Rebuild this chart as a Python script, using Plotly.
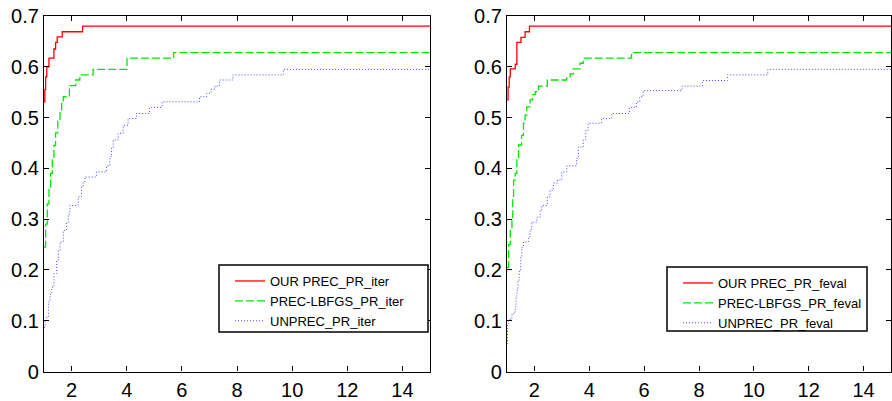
import plotly.graph_objects as go

# ---- data ----
red_iter_x = [1.0, 1.03, 1.06, 1.10, 1.18, 1.36, 1.42, 1.48, 1.66, 2.40, 15]
red_iter_y = [0.531, 0.555, 0.58, 0.600, 0.617, 0.635, 0.648, 0.659, 0.669, 0.680, 0.680]

green_iter_x = [1.0, 1.06, 1.12, 1.18, 1.24, 1.30, 1.36, 1.42, 1.50, 1.58, 1.64, 1.70,
                1.92, 2.15, 2.30, 2.78, 4.01, 5.70, 15]
green_iter_y = [0.245, 0.29, 0.33, 0.36, 0.39, 0.42, 0.445, 0.47, 0.495, 0.515, 0.53, 0.541,
                0.563, 0.574, 0.584, 0.595, 0.617, 0.628, 0.628]

blue_iter_x = [1.0, 1.04, 1.10, 1.16, 1.22, 1.28, 1.36, 1.46, 1.52, 1.58, 1.70, 1.82, 1.88,
               1.94, 2.24, 2.36, 2.42, 2.48, 2.90, 3.27, 3.39, 3.45, 3.51, 3.69, 3.87, 4.05,
               4.35, 4.83, 5.28, 6.64, 6.90, 7.06, 7.20, 7.36, 7.85, 9.68, 15]
blue_iter_y = [0.087, 0.10, 0.107, 0.137, 0.152, 0.166, 0.193, 0.219, 0.238, 0.255, 0.278,
               0.294, 0.31, 0.327, 0.344, 0.365, 0.373, 0.383, 0.393, 0.405, 0.423, 0.44,
               0.456, 0.469, 0.485, 0.498, 0.508, 0.520, 0.531, 0.541, 0.548, 0.556, 0.562,
               0.574, 0.584, 0.595, 0.595]

red_feval_x = [1.0, 1.04, 1.08, 1.12, 1.30, 1.36, 1.51, 1.66, 1.82, 15]
red_feval_y = [0.535, 0.56, 0.58, 0.596, 0.605, 0.648, 0.658, 0.669, 0.680, 0.680]

green_feval_x = [1.0, 1.06, 1.12, 1.18, 1.21, 1.24, 1.30, 1.36, 1.42, 1.53, 1.60, 1.66, 1.72,
                 1.84, 1.93, 2.03, 2.15, 2.47, 3.18, 3.30, 3.42, 3.66, 3.78, 5.54, 15]
green_feval_y = [0.205, 0.25, 0.28, 0.30, 0.34, 0.377, 0.390, 0.42, 0.446, 0.465, 0.489,
                 0.505, 0.521, 0.535, 0.545, 0.551, 0.562, 0.574, 0.580, 0.586, 0.596,
                 0.607, 0.617, 0.628, 0.628]

blue_feval_x = [1.0, 1.02, 1.06, 1.12, 1.18, 1.24, 1.30, 1.33, 1.36, 1.40, 1.45, 1.50, 1.54,
                1.60, 1.78, 1.84, 1.90, 2.09, 2.21, 2.27, 2.47, 2.57, 2.69, 2.84, 3.0, 3.18,
                3.54, 3.60, 3.78, 3.87, 3.96, 4.45, 4.82, 5.46, 5.72, 5.84, 5.96, 7.38, 8.13,
                9.04, 10.51, 15]
blue_feval_y = [0.055, 0.094, 0.1, 0.105, 0.112, 0.117, 0.127, 0.145, 0.160, 0.18, 0.199,
                0.225, 0.245, 0.255, 0.265, 0.28, 0.294, 0.304, 0.318, 0.327, 0.344, 0.357,
                0.371, 0.377, 0.393, 0.405, 0.42, 0.442, 0.456, 0.475, 0.489, 0.498, 0.508,
                0.520, 0.531, 0.541, 0.553, 0.562, 0.573, 0.584, 0.595, 0.595]

x_ticks = [2, 4, 6, 8, 10, 12, 14]
y_ticks = [0, 0.1, 0.2, 0.3, 0.4, 0.5, 0.6, 0.7]
y_tick_labels = ["0", "0.1", "0.2", "0.3", "0.4", "0.5", "0.6", "0.7"]

names_iter = ["OUR PREC_PR_iter", "PREC-LBFGS_PR_iter", "UNPREC_PR_iter"]
names_feval = ["OUR PREC_PR_feval", "PREC-LBFGS_PR_feval", "UNPREC_PR_feval"]

FONT = "Liberation Sans, Arial, sans-serif"

styles = [
    dict(color="rgb(255,0,0)", width=1.3, dash="solid"),
    dict(color="rgb(0,230,0)", width=1.3, dash="8px,3px"),
    dict(color="rgb(70,70,255)", width=1.0, dash="1px,2px"),
]

fig = go.Figure()
left = [(red_iter_x, red_iter_y), (green_iter_x, green_iter_y), (blue_iter_x, blue_iter_y)]
right = [(red_feval_x, red_feval_y), (green_feval_x, green_feval_y), (blue_feval_x, blue_feval_y)]

for (xs, ys), nm, st in zip(left, names_iter, styles):
    fig.add_trace(go.Scatter(x=xs, y=ys, mode="lines", name=nm, line=dict(shape="hv", **st),
                             xaxis="x", yaxis="y", legend="legend"))
for (xs, ys), nm, st in zip(right, names_feval, styles):
    fig.add_trace(go.Scatter(x=xs, y=ys, mode="lines", name=nm, line=dict(shape="hv", **st),
                             xaxis="x2", yaxis="y2", legend="legend2"))

W, H = 892, 401
ydom = [1 - 371.5 / H, 1 - 16 / H]
axis_common = dict(showline=True, linecolor="black", linewidth=1.2, mirror="allticks",
                   ticks="inside", ticklen=5, tickwidth=1, tickcolor="black",
                   showgrid=False, zeroline=False, automargin=False,
                   tickfont=dict(family=FONT, size=20, color="black"))

def px_x(p):
    return p / W

def px_y(p):
    return 1 - p / H

leg_common = dict(xanchor="left", yanchor="top", borderwidth=0, bgcolor="rgba(0,0,0,0)",
                  font=dict(family=FONT, size=13, color="black"), tracegroupgap=0,
                  itemclick=False, itemdoubleclick=False)

fig.update_layout(
    width=W, height=H, margin=dict(l=0, r=0, t=0, b=0, autoexpand=False),
    paper_bgcolor="white", plot_bgcolor="white",
    xaxis=dict(domain=[px_x(44), px_x(430)], range=[1, 15], tickvals=x_ticks, anchor="y", **axis_common),
    yaxis=dict(domain=ydom, range=[0, 0.7], tickvals=y_ticks, ticktext=y_tick_labels, anchor="x", **axis_common),
    xaxis2=dict(domain=[px_x(507), px_x(891)], range=[1, 15], tickvals=x_ticks, anchor="y2", **axis_common),
    yaxis2=dict(domain=ydom, range=[0, 0.7], tickvals=y_ticks, ticktext=y_tick_labels, anchor="x2", **axis_common),
    legend=dict(x=px_x(230), y=px_y(266), **leg_common),
    legend2=dict(x=px_x(678), y=px_y(268), **leg_common),
    showlegend=True,
    shapes=[
        dict(type="rect", xref="paper", yref="paper", x0=px_x(219), x1=px_x(428),
             y0=px_y(332), y1=px_y(265), line=dict(color="black", width=1.5),
             fillcolor="white", layer="above"),
        dict(type="rect", xref="paper", yref="paper", x0=px_x(667), x1=px_x(867),
             y0=px_y(331), y1=px_y(267), line=dict(color="black", width=1.5),
             fillcolor="white", layer="above"),
    ],
)

fig.write_html("out.html", config={"displayModeBar": False},
               post_script="document.body.style.margin='0';")
